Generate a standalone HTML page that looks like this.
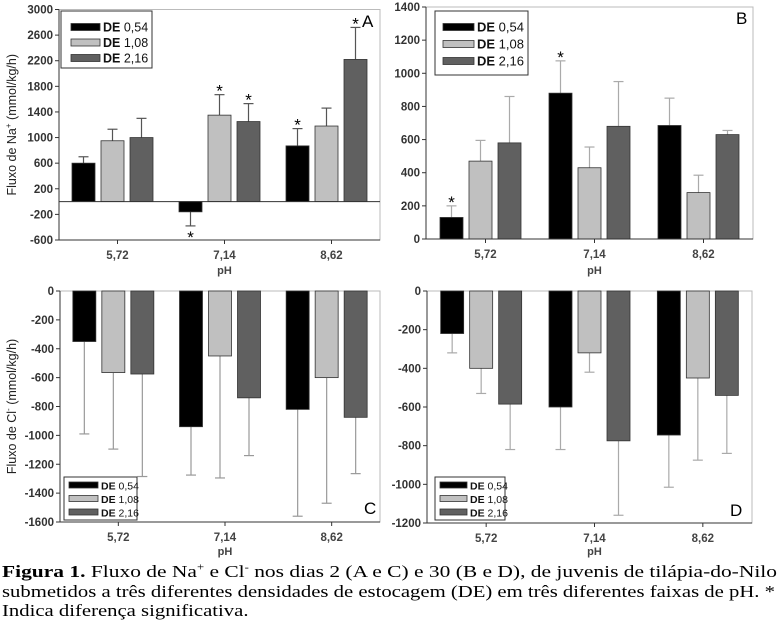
<!DOCTYPE html>
<html><head><meta charset="utf-8">
<style>
html,body{margin:0;padding:0;background:#fff;}
body{width:779px;height:638px;position:relative;overflow:hidden;font-family:"Liberation Sans",Arial,sans-serif;}
#cap{position:absolute;left:2px;top:562px;width:780px;font-family:"Liberation Serif",serif;font-size:17px;line-height:19.5px;color:#000;}
#cap .ln{display:block;white-space:nowrap;transform-origin:0 0;}
</style></head>
<body>
<svg id="chart" width="779" height="560" style="position:absolute;left:0;top:0" xmlns="http://www.w3.org/2000/svg"></svg>
<div id="cap"><span class="ln" id="l1"><b>Figura 1.</b> Fluxo de Na<sup style="font-size:10px;line-height:0">+</sup> e Cl<sup style="font-size:10px;line-height:0">-</sup> nos dias 2 (A e C) e 30 (B e D), de juvenis de tilápia-do-Nilo</span><span class="ln" id="l2">submetidos a três diferentes densidades de estocagem (DE) em três diferentes faixas de pH. *</span><span class="ln" id="l3">Indica diferença significativa.</span></div>
<script>
const categories = ["5,72","7,14","8,62"];
const seriesNames = ["DE 0,54","DE 1,08","DE 2,16"];
// Panel A (Na+, day 2)
const aMeans = [[600,-160,870],[950,1350,1180],[1000,1250,2220]];
const aErr = [[700,-380,1140],[1130,1670,1460],[1300,1530,2720]];
const aStars = [[0,1,1],[0,1,0],[0,1,1]];
const aTicks = [3000,2600,2200,1800,1400,1000,600,200,-200,-600];
// Panel B (Na+, day 30)
const bMeans = [[130,880,685],[470,430,280],[580,680,630]];
const bErr = [[200,1075,850],[595,555,385],[860,950,655]];
const bStars = [[1,1,0],[0,0,0],[0,0,0]];
const bTicks = [1400,1200,1000,800,600,400,200,0];
// Panel C (Cl-, day 2)
const cMeans = [[-350,-940,-820],[-565,-450,-600],[-575,-740,-875]];
const cErr = [[-990,-1275,-1560],[-1095,-1295,-1470],[-1285,-1140,-1265]];
const cTicks = [0,-200,-400,-600,-800,-1000,-1200,-1400,-1600];
// Panel D (Cl-, day 30)
const dMeans = [[-220,-600,-745],[-400,-320,-450],[-585,-775,-540]];
const dErr = [[-320,-820,-1015],[-530,-420,-875],[-820,-1160,-840]];
const dTicks = [0,-200,-400,-600,-800,-1000,-1200];

const fills = ["#000000","#c0c0c0","#606060"];
const NS="http://www.w3.org/2000/svg";
const svg=document.getElementById('chart');
function mk(tag,attrs,parent){const e=document.createElementNS(NS,tag);for(const k in attrs)e.setAttribute(k,attrs[k]);(parent||svg).appendChild(e);return e;}

function panel(p){
  const g=mk('g',{});
  
  
  const ymin=p.ymin,ymax=p.ymax;
  const y=v=>p.y1+(ymax-v)/(ymax-ymin)*(p.y0-p.y1);
  const slot=(p.x1-p.x0)/categories.length;
  const xc=i=>p.x0+slot*(i+0.5);
  const fr=mk('rect',{x:p.x0,y:p.y1,width:p.x1-p.x0,height:p.y0-p.y1,fill:'none',stroke:'#bbb','stroke-width':1},g);
  
  
  p.ticks.forEach(t=>{
    const yy=y(t);
    mk('line',{x1:p.x0-4,x2:p.x0,y1:yy,y2:yy,stroke:'#333'},g);
    const tx=mk('text',{x:p.x0-6,y:yy+4,'text-anchor':'end','font-size':11.5,'font-weight':'bold',fill:'#333'},g);
    tx.textContent=t;
    
    
  });
  for(let s=0;s<3;s++){
    for(let i=0;i<3;i++){
      const cx=xc(i)+(s-1)*29;
      const m=p.means[s][i],e=p.err[s][i];
      const y0=y(0),ym=y(m);
      const wl=mk('line',{x1:cx,x2:cx,y1:ym,y2:y(e),stroke:p.errColor,'stroke-width':1.2},g);
      
      
      mk('line',{x1:cx-5,x2:cx+5,y1:y(e),y2:y(e),stroke:p.errColor,'stroke-width':1.2},g);
      const r=mk('rect',{x:cx-11.5,y:Math.min(y0,ym),width:23,height:Math.abs(ym-y0),fill:fills[s],stroke:'#333','stroke-width':0.8},g);
      
      
      if(p.stars && p.stars[s][i]){
        const sy=e>=0?y(e)-2:y(e)+13;
        const st=mk('text',{x:cx,y:sy+4,'text-anchor':'middle','font-size':17,fill:'#000'},g);
        st.textContent='*';
        
        
      }
    }
  }
  mk('line',{x1:p.x0,x2:p.x0,y1:p.y1,y2:p.y0,stroke:'#333','stroke-width':1},g);
  mk('line',{x1:p.x0,x2:p.x1,y1:p.y0,y2:p.y0,stroke:'#333','stroke-width':1},g);
  if(ymin<0&&ymax>0) {const zl=mk('line',{x1:p.x0,x2:p.x1,y1:y(0),y2:y(0),stroke:'#333','stroke-width':1},g);}
  categories.forEach((c,i)=>{
    mk('line',{x1:xc(i)+5,x2:xc(i)+5,y1:p.y0,y2:p.y0+4,stroke:'#333'},g);
    const t=mk('text',{x:xc(i)+5,y:p.y0+19,'text-anchor':'middle','font-size':11.5,'font-weight':'bold',fill:'#444'},g);
    t.textContent=c;
    
    
  });
  const xt=mk('text',{x:(p.x0+p.x1)/2+5,y:p.y0+p.ptOff,'text-anchor':'middle','font-size':11,'font-weight':'bold',fill:'#444'},g);
  xt.textContent='pH';
  
  
  const lt=mk('text',{x:p.lx,y:p.ly,'font-size':17,fill:'#000'},g);
  lt.textContent=p.id;
  
  
  const L=p.leg;
  const lg=mk('g',{},g);
  
  
  mk('rect',{x:L.x,y:L.y,width:L.w,height:L.h,fill:'#fff',stroke:'#333','stroke-width':1},lg);
  seriesNames.forEach((n,s)=>{
    const ry=L.y+L.pad+s*L.dy;
    mk('rect',{x:L.x+L.sx,y:ry-L.sh/2,width:L.sw,height:L.sh,fill:fills[s],stroke:'#333','stroke-width':0.8},lg);
    const t=mk('text',{x:L.x+L.sx+L.sw+3,y:ry+4.5,'font-size':L.fs,fill:'#111'},lg);
    t.innerHTML='<tspan font-weight="bold">DE</tspan> '+n.slice(3);
    
    
  });
  if(p.ytitle){
    const yt=mk('text',{x:0,y:0,transform:`translate(${p.ytx},${(p.y0+p.y1)/2}) rotate(-90)`,'text-anchor':'middle','font-size':12.5,fill:'#222'},g);
    yt.innerHTML=p.ytitle;
    
    
  }
}
panel({id:'A',x0:59,x1:380,y1:9.5,y0:240,ymin:-600,ymax:3000,ticks:aTicks,means:aMeans,err:aErr,stars:aStars,errColor:'#555',lx:362,ly:27,ptOff:34,
  leg:{x:61,y:11,w:91,h:57,pad:16,dy:15.5,sx:10,sw:29,sh:7,fs:12.5},ytitle:'Fluxo de Na<tspan dy="-5" font-size="8">+</tspan><tspan dy="5"> (mmol/kg/h)</tspan>',ytx:16});
panel({id:'B',x0:426,x1:753,y1:7,y0:239,ymin:0,ymax:1400,ticks:bTicks,means:bMeans,err:bErr,stars:bStars,errColor:'#aaa',lx:736,ly:24,ptOff:35,
  leg:{x:435,y:11,w:93,h:64,pad:16,dy:17,sx:8,sw:31,sh:7,fs:13}});
panel({id:'C',x0:60,x1:380,y1:291,y0:522,ymin:-1600,ymax:0,ticks:cTicks,means:cMeans,err:cErr,stars:null,errColor:'#999',lx:364,ly:514,ptOff:33,
  leg:{x:64,y:477,w:73,h:43,pad:8,dy:13.5,sx:5,sw:29,sh:6,fs:10.5},ytitle:'Fluxo de Cl<tspan dy="-5" font-size="8">-</tspan><tspan dy="5"> (mmol/kg/h)</tspan>',ytx:16});
panel({id:'D',x0:427,x1:752,y1:291,y0:523,ymin:-1200,ymax:0,ticks:dTicks,means:dMeans,err:dErr,stars:null,errColor:'#aaa',lx:730,ly:516,ptOff:32,
  leg:{x:435,y:477,w:70,h:43,pad:8,dy:13.5,sx:5,sw:27,sh:6,fs:10.5}});
// fit caption lines to reference widths
(function(){
  const l1=document.getElementById('l1'),l2=document.getElementById('l2'),l3=document.getElementById('l3');
  [l1,l2,l3].forEach(l=>l.style.display='inline-block');
  const s1=775/l1.getBoundingClientRect().width;
  const s2=773/l2.getBoundingClientRect().width;
  [l1,l2,l3].forEach(l=>l.style.display='block');
  l1.style.transform='scaleX('+s1+')';
  l2.style.transform='scaleX('+s2+')';
  l3.style.transform='scaleX('+s2+')';
})();
</script>
</body></html>
